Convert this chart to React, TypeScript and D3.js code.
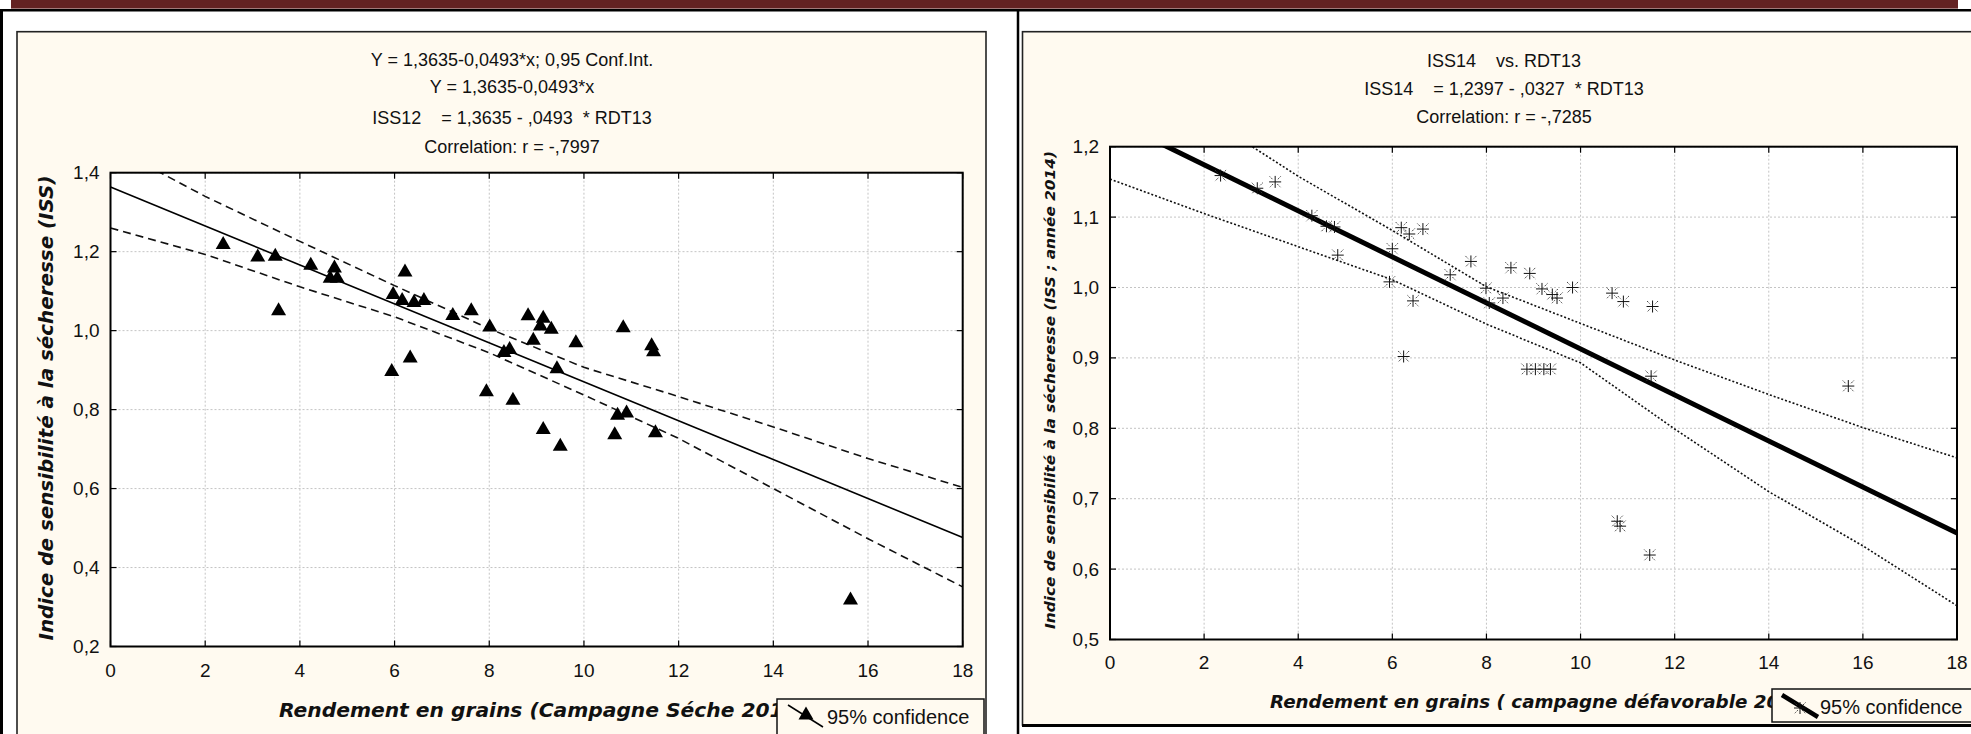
import React from 'react';
import * as d3 from 'd3';

// ---------- data ----------
const xTicks = [0, 2, 4, 6, 8, 10, 12, 14, 16, 18];
const leftYTicks = [0.2, 0.4, 0.6, 0.8, 1.0, 1.2, 1.4];
const rightYTicks = [0.5, 0.6, 0.7, 0.8, 0.9, 1.0, 1.1, 1.2];

// ISS12 vs RDT13 (left)
const leftRdt = [2.38, 3.11, 3.48, 3.55, 4.23, 4.73, 4.64, 4.79, 5.94, 5.97, 6.16, 6.22, 6.41, 6.33, 6.62, 7.23, 7.62, 8.01, 7.94,
  8.82, 9.14, 9.08, 9.31, 8.93, 9.83, 10.83, 11.43, 11.47, 8.31, 8.43, 9.43, 8.50, 9.14, 9.50, 10.71, 10.90, 10.65, 11.51, 15.63];
const leftIss = [1.221, 1.189, 1.191, 1.053, 1.168, 1.161, 1.135, 1.135, 0.899, 1.094, 1.079, 1.151, 1.074, 0.933, 1.079, 1.041, 1.053, 1.012, 0.848,
  1.040, 1.034, 1.014, 1.006, 0.978, 0.972, 1.010, 0.964, 0.949, 0.947, 0.955, 0.906, 0.826, 0.752, 0.710, 0.788, 0.794, 0.739, 0.744, 0.320];

// ISS14 vs RDT13 (right)
const rightRdt = [2.35, 3.13, 3.51, 4.29, 4.60, 4.77, 4.84, 6.00, 5.94, 6.19, 6.36, 6.65, 6.44, 6.24, 7.23, 7.67, 7.99, 8.06, 8.35,
  8.52, 8.92, 9.18, 9.40, 9.50, 9.83, 10.67, 10.91, 11.53, 8.86, 9.04, 9.22, 9.36, 11.50, 15.69, 10.78, 10.84, 11.47];
const rightIss = [1.159, 1.141, 1.150, 1.102, 1.087, 1.086, 1.046, 1.055, 1.008, 1.085, 1.076, 1.083, 0.981, 0.902, 1.018, 1.037, 0.999, 0.978, 0.985,
  1.028, 1.020, 0.998, 0.990, 0.985, 1.000, 0.992, 0.980, 0.973, 0.884, 0.884, 0.884, 0.884, 0.874, 0.860, 0.668, 0.661, 0.620];

// 95% confidence bands read at x = 0,2,...,18
const bandX = [0, 2, 4, 6, 8, 10, 12, 14, 16, 18];
const leftUpper = [1.467, 1.340, 1.226, 1.114, 1.005, 0.907, 0.833, 0.756, 0.676, 0.603];
const leftLower = [1.260, 1.193, 1.111, 1.035, 0.944, 0.837, 0.727, 0.600, 0.473, 0.351];
const rightUpper = [1.326, 1.244, 1.158, 1.081, 1.001, 0.949, 0.897, 0.848, 0.801, 0.758];
const rightLower = [1.154, 1.105, 1.058, 1.011, 0.948, 0.893, 0.799, 0.710, 0.633, 0.548];

const leftCoef = [1.3635, -0.0493];
const rightCoef = [1.2397, -0.0327];

const leftTitles = [
  'Y = 1,3635-0,0493*x; 0,95 Conf.Int.',
  'Y = 1,3635-0,0493*x',
  'ISS12    = 1,3635 - ,0493  * RDT13',
  'Correlation: r = -,7997',
];
const rightTitles = [
  'ISS14    vs. RDT13',
  'ISS14    = 1,2397 - ,0327  * RDT13',
  'Correlation: r = -,7285',
];
const leftYLabel = 'Indice de sensibilité à la sécheresse (ISS)';
const rightYLabel = 'Indice de sensibilité à la sécheresse (ISS ; année 2014)';
const leftXLabel = 'Rendement en grains (Campagne Séche 2013)';
const rightXLabel = 'Rendement en grains ( campagne défavorable 2013)';
const legendText = '95% confidence';

// ---------- styles ----------
const CREAM = '#fffaf0';
const SANS = '"Liberation Sans", Arial, sans-serif';
const HEAVY = '"DejaVu Sans", "Liberation Sans", sans-serif';
const fmt = (v: number) => v.toFixed(1).replace('.', ',');

const TRI = 'M0,-7.5L7.5,5.5L-7.5,5.5Z';

function Asterisk({ cx, cy }: { cx: number; cy: number }) {
  return (
    <g transform={`translate(${cx},${cy})`}>
      <path d="M-6,0H6M0,-6V6" stroke="#111" strokeWidth={1} fill="none" />
      <path d="M-5.5,-5.5L-2.2,-2.2M2.2,2.2L5.5,5.5M5.5,-5.5L2.2,-2.2M-2.2,2.2L-5.5,5.5" stroke="#333" strokeWidth={1} strokeDasharray="1.3,0.9" fill="none" />
    </g>
  );
}

type PanelProps = {
  id: string;
  x0: number; x1: number; y0: number; y1: number;
  yDomain: [number, number];
  yTicks: number[];
  xs: number[]; ys: number[];
  upper: number[]; lower: number[];
  coef: number[];
  marker: 'tri' | 'ast';
  regWidth: number;
  bandDash: string;
  bandWidth: number;
  xLabelY: number;
};

function Panel(p: PanelProps) {
  const x = d3.scaleLinear().domain([0, 18]).range([p.x0, p.x1]);
  const y = d3.scaleLinear().domain(p.yDomain).range([p.y1, p.y0]);
  const line = d3.line<[number, number]>().x((d) => x(d[0])).y((d) => y(d[1]));
  const reg: [number, number][] = [[0, p.coef[0]], [18, p.coef[0] + p.coef[1] * 18]];
  const up = bandX.map((v, i) => [v, p.upper[i]] as [number, number]);
  const lo = bandX.map((v, i) => [v, p.lower[i]] as [number, number]);
  const tk = 6;
  return (
    <g>
      <defs>
        <clipPath id={`clip-${p.id}`}>
          <rect x={p.x0} y={p.y0} width={p.x1 - p.x0} height={p.y1 - p.y0} />
        </clipPath>
      </defs>
      <rect x={p.x0} y={p.y0} width={p.x1 - p.x0} height={p.y1 - p.y0} fill="#fff" />
      {xTicks.map((t) => (
        <line key={`gx${t}`} x1={x(t)} x2={x(t)} y1={p.y0} y2={p.y1} stroke="#c4c4c4" strokeWidth={1} strokeDasharray="2,2" />
      ))}
      {p.yTicks.map((t) => (
        <line key={`gy${t}`} x1={p.x0} x2={p.x1} y1={y(t)} y2={y(t)} stroke="#c4c4c4" strokeWidth={1} strokeDasharray="2,2" />
      ))}
      <g clipPath={`url(#clip-${p.id})`}>
        <path d={line(up) || ''} fill="none" stroke="#111" strokeWidth={p.bandWidth} strokeDasharray={p.bandDash} />
        <path d={line(lo) || ''} fill="none" stroke="#111" strokeWidth={p.bandWidth} strokeDasharray={p.bandDash} />
        <path d={line(reg) || ''} fill="none" stroke="#000" strokeWidth={p.regWidth} />
        {p.xs.map((v, i) =>
          p.marker === 'tri' ? (
            <path key={i} d={TRI} transform={`translate(${x(v)},${y(p.ys[i])})`} fill="#000" />
          ) : (
            <Asterisk key={i} cx={x(v)} cy={y(p.ys[i])} />
          )
        )}
      </g>
      {xTicks.map((t) => (
        <g key={`tx${t}`}>
          <line x1={x(t)} x2={x(t)} y1={p.y1} y2={p.y1 - tk} stroke="#000" strokeWidth={1.2} />
          <line x1={x(t)} x2={x(t)} y1={p.y0} y2={p.y0 + tk} stroke="#000" strokeWidth={1.2} />
        </g>
      ))}
      {p.yTicks.map((t) => (
        <g key={`ty${t}`}>
          <line x1={p.x0} x2={p.x0 + tk} y1={y(t)} y2={y(t)} stroke="#000" strokeWidth={1.2} />
          <line x1={p.x1} x2={p.x1 - tk} y1={y(t)} y2={y(t)} stroke="#000" strokeWidth={1.2} />
        </g>
      ))}
      <rect x={p.x0} y={p.y0} width={p.x1 - p.x0} height={p.y1 - p.y0} fill="none" stroke="#000" strokeWidth={2} />
      {xTicks.map((t) => (
        <text key={`lx${t}`} x={x(t)} y={p.xLabelY} textAnchor="middle" fontFamily={SANS} fontSize={19} fill="#111">
          {t}
        </text>
      ))}
      {p.yTicks.map((t) => (
        <text key={`ly${t}`} x={p.x0 - 11} y={y(t) + 6.5} textAnchor="end" fontFamily={SANS} fontSize={19} fill="#111">
          {fmt(t)}
        </text>
      ))}
    </g>
  );
}

export default function App() {
  return (
    <svg width={1971} height={734} style={{ position: 'absolute', left: 0, top: 0, background: '#fff' }}>
      {/* page decoration */}
      <rect x={11} y={0} width={1947} height={8.6} fill="#632222" />
      <line x1={0} x2={1971} y1={10.3} y2={10.3} stroke="#000" strokeWidth={2.5} />
      <line x1={1.5} x2={1.5} y1={10} y2={734} stroke="#000" strokeWidth={3} />
      <line x1={1018} x2={1018} y1={10} y2={734} stroke="#000" strokeWidth={2.5} />

      {/* left panel */}
      <rect x={17} y={31.7} width={969} height={720} fill={CREAM} stroke="#222" strokeWidth={1.6} />
      {leftTitles.map((t, i) => (
        <text key={t} x={512} y={[66, 93, 124, 153][i]} textAnchor="middle" fontFamily={SANS} fontSize={18} fill="#111" style={{ whiteSpace: 'pre' }}>
          {t}
        </text>
      ))}
      <Panel id="L" x0={110.5} x1={962.7} y0={172.7} y1={646.5} yDomain={[0.2, 1.4]} yTicks={leftYTicks}
        xs={leftRdt} ys={leftIss} upper={leftUpper} lower={leftLower} coef={leftCoef}
        marker="tri" regWidth={1.6} bandDash="8,5" bandWidth={1.6} xLabelY={677} />
      <text transform="translate(53,408) rotate(-90)" textAnchor="middle" fontFamily={HEAVY} fontWeight="bold" fontStyle="italic"
        fontSize={19.5} textLength={465} lengthAdjust="spacingAndGlyphs" fill="#111">
        {leftYLabel}
      </text>
      <text x={279} y={717} fontFamily={HEAVY} fontWeight="bold" fontStyle="italic" fontSize={20}
        textLength={528} lengthAdjust="spacingAndGlyphs" fill="#111">
        {leftXLabel}
      </text>
      <g>
        <rect x={777} y={699} width={207} height={50} fill={CREAM} stroke="#111" strokeWidth={1.5} />
        <line x1={788} y1={705} x2={823} y2={727} stroke="#000" strokeWidth={1.5} />
        <path d={TRI} transform="translate(806,714)" fill="#000" />
        <text x={827} y={724} fontFamily={SANS} fontSize={20} fill="#111">{legendText}</text>
      </g>

      {/* right panel */}
      <rect x={1022.5} y={31.7} width={960} height={693.3} fill={CREAM} stroke="#222" strokeWidth={1.6} />
      <line x1={1022} x2={1971} y1={725.5} y2={725.5} stroke="#000" strokeWidth={3} />
      {rightTitles.map((t, i) => (
        <text key={t} x={1504} y={[67, 95, 123][i]} textAnchor="middle" fontFamily={SANS} fontSize={18} fill="#111" style={{ whiteSpace: 'pre' }}>
          {t}
        </text>
      ))}
      <Panel id="R" x0={1110} x1={1957} y0={146.7} y1={639.5} yDomain={[0.5, 1.2]} yTicks={rightYTicks}
        xs={rightRdt} ys={rightIss} upper={rightUpper} lower={rightLower} coef={rightCoef}
        marker="ast" regWidth={5} bandDash="2,2" bandWidth={1.6} xLabelY={669} />
      <text transform="translate(1055,390) rotate(-90)" textAnchor="middle" fontFamily={HEAVY} fontWeight="bold" fontStyle="italic"
        fontSize={14} textLength={478} lengthAdjust="spacingAndGlyphs" fill="#111">
        {rightYLabel}
      </text>
      <text x={1270} y={708} fontFamily={HEAVY} fontWeight="bold" fontStyle="italic" fontSize={18.5}
        textLength={543} lengthAdjust="spacingAndGlyphs" fill="#111">
        {rightXLabel}
      </text>
      <g>
        <rect x={1772} y={689} width={220} height={33} fill={CREAM} stroke="#111" strokeWidth={1.5} />
        <line x1={1782} y1={695} x2={1818} y2={717} stroke="#000" strokeWidth={4.5} />
        <Asterisk cx={1800} cy={708} />
        <text x={1820} y={714} fontFamily={SANS} fontSize={20} fill="#111">{legendText}</text>
      </g>
    </svg>
  );
}
